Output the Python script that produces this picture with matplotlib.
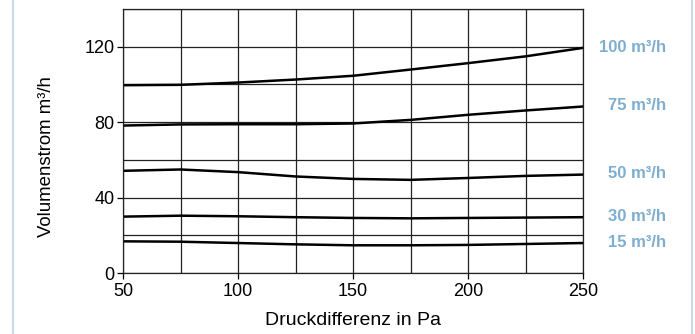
import matplotlib.pyplot as plt
from matplotlib.lines import Line2D

plt.rcParams['font.family'] = ['Liberation Sans', 'DejaVu Sans']

pressure = [50, 75, 100, 125, 150, 175, 200, 225, 250]
flow_100 = [99.6, 99.8, 101.0, 102.6, 104.6, 107.9, 111.3, 114.9, 119.4]
flow_75 = [78.2, 78.8, 78.9, 78.9, 79.3, 81.2, 83.9, 86.2, 88.3]
flow_50 = [54.2, 54.9, 53.5, 51.2, 49.9, 49.4, 50.4, 51.5, 52.2]
flow_30 = [29.9, 30.4, 30.1, 29.6, 29.2, 29.0, 29.2, 29.4, 29.6]
flow_15 = [16.8, 16.6, 15.9, 15.2, 14.7, 14.7, 14.9, 15.4, 15.9]
series = [flow_100, flow_75, flow_50, flow_30, flow_15]
labels = ["100 m³/h", "75 m³/h", "50 m³/h", "30 m³/h", "15 m³/h"]

fig = plt.figure(figsize=(6.95, 3.34), dpi=100)
ax = fig.add_axes([0.177, 0.1826, 0.662, 0.7904])

ax.set_xlim(50, 250)
ax.set_ylim(0, 140)
ax.set_xticks([50, 100, 150, 200, 250])
ax.set_xticks(range(50, 251, 25), minor=True)
ax.set_yticks([0, 40, 80, 120])
ax.set_yticks(range(0, 141, 20), minor=True)
ax.grid(True, which='both', color='#222222', linewidth=0.9)
ax.tick_params(which='minor', length=0)
ax.tick_params(which='major', length=4.5, width=0.9, labelsize=13)
ax.tick_params(axis='x', pad=3)
ax.tick_params(axis='y', pad=1.5)
for s in ax.spines.values():
    s.set_linewidth(0.9)
    s.set_color('#222222')

for ys, lab in zip(series, labels):
    ax.plot(pressure, ys, color='black', linewidth=1.8, solid_capstyle='butt')
    ax.annotate(lab, xy=(pressure[-1], ys[-1]), xytext=(60, 0.5),
                textcoords='offset points', ha='right', va='center',
                fontsize=12, fontweight='bold', color='#7DADCF',
                annotation_clip=False)

ax.set_xlabel("Druckdifferenz in Pa", fontsize=14, labelpad=8)
ax.set_ylabel("Volumenstrom m³/h", fontsize=13.4)
ax.yaxis.set_label_coords(-0.147, 0.441)

for xf in (12.5 / 695, 692 / 695):
    fig.add_artist(Line2D([xf, xf], [0, 1], transform=fig.transFigure,
                          color='#C5DAEB', linewidth=1.5))

fig.savefig("out.png", dpi=100)
